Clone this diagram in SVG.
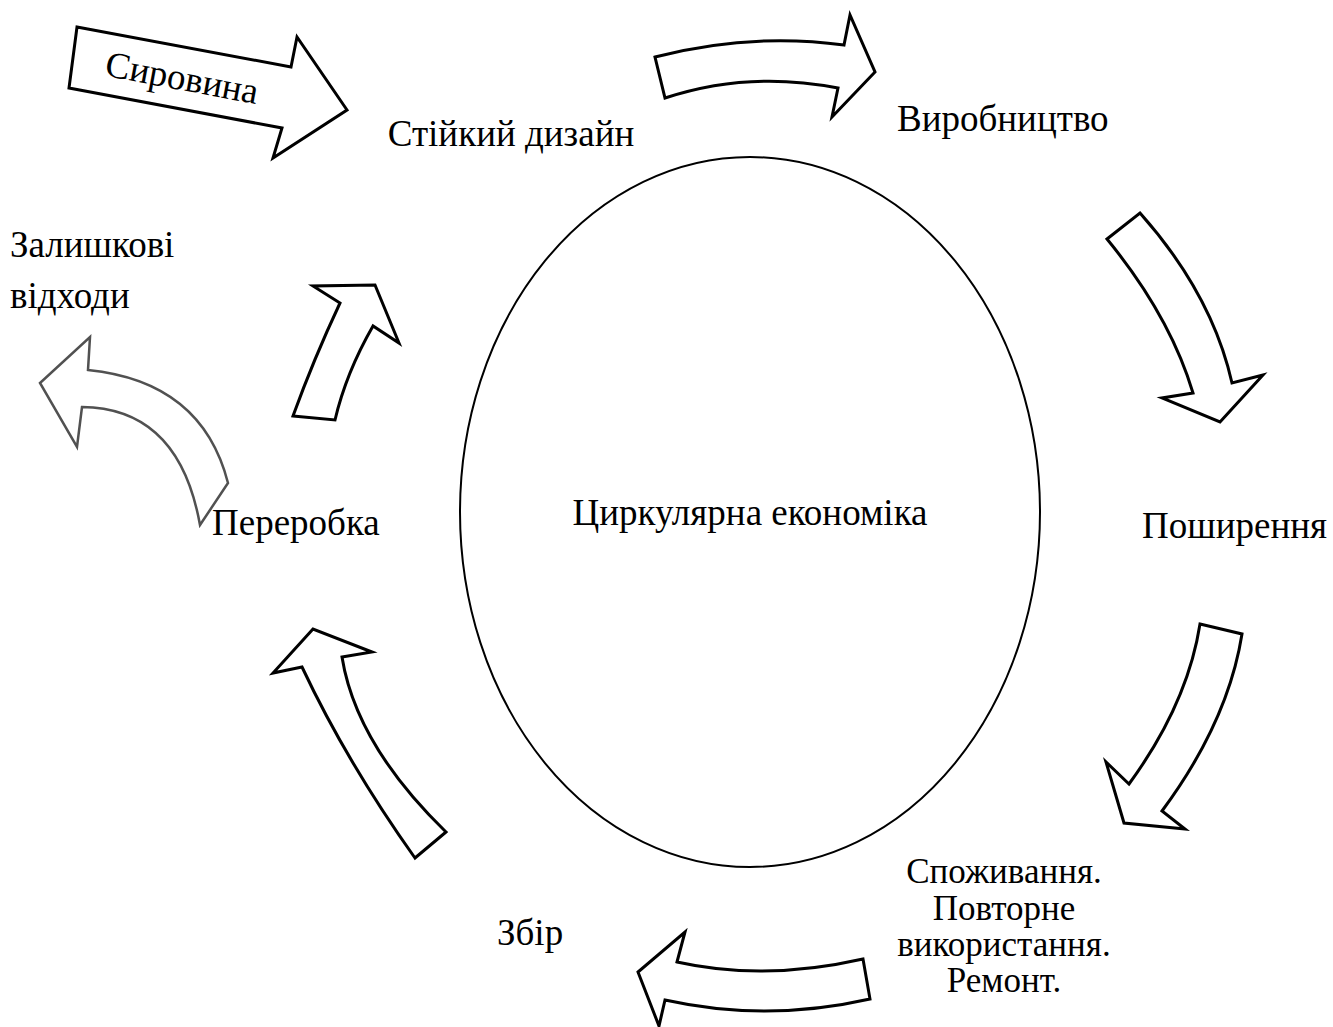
<svg xmlns="http://www.w3.org/2000/svg" width="1333" height="1027" viewBox="0 0 1333 1027">
<style>
.t{font-family:"Liberation Serif","Times New Roman",serif;font-size:37px;fill:#000}
.s{font-size:35px}
.m{text-anchor:middle}
.a{fill:#fff;stroke:#000;stroke-width:3;stroke-linejoin:miter}
.g{fill:#fff;stroke:#333;stroke-width:2.5;stroke-linejoin:miter;opacity:0.85}
</style>
<rect width="1333" height="1027" fill="#fff"/>
<g id="connectors">
<path id="arrow-raw" class="a" d="M77,27 L291,67 L297,37 L347,110 L273,158 L282,128 L69,88 Z"/>
<path id="arrow-top" class="a" d="M655,57 Q750.5,32.4 844,45 L850,15 L875,72 L832,117 L838,88 Q748.5,70.4 665,98 Z"/>
<path id="arrow-right1" class="a" d="M1107,239 L1140,213 Q1212,294 1232,383 L1263,375 L1220,422 L1162,398 L1193,393 Q1170,316 1107,239 Z"/>
<path id="arrow-right2" class="a" d="M1200,624 L1242,634 Q1228,722 1162,811 L1185,829 L1124,823 L1106,762 L1129,784 Q1187.5,704 1200,624 Z"/>
<path id="arrow-bottom" class="a" d="M863,959 L870,999 Q766.5,1022.5 665,1000 L659,1026 L638,972 L685,932 L677,962 Q764,981.5 863,959 Z"/>
<path id="arrow-left1" class="a" d="M446,832 L415,858 Q347,762.5 302,667 L273,673 L313,629 L372,652 L342,657 Q356,744.5 446,832 Z"/>
<path id="arrow-left2" class="a" d="M293,416 L335,420 Q346,373 373,326 L399,343 L375,285 L313,286 L340,303 Q313.5,359.5 293,416 Z"/>
<path id="arrow-waste" class="g" d="M200,525 L228,483 Q202,381.5 88,370 L90,337 L40,383 L77,447 L82,407 Q179,408 200,525 Z"/>
</g>
<g id="node-raw">
<text class="t m" transform="translate(182,78) rotate(10.6)" y="12">Сировина</text>
</g>
<g id="node-center">
<ellipse cx="750" cy="512" rx="290" ry="355" fill="none" stroke="#000" stroke-width="2"/>
<text class="t m" x="750" y="525">Циркулярна економіка</text>
</g>
<g id="node-design"><text class="t m" x="511" y="146">Стійкий дизайн</text></g>
<g id="node-production"><text class="t" x="897" y="131">Виробництво</text></g>
<g id="node-distribution"><text class="t" x="1142" y="538">Поширення</text></g>
<g id="node-consumption"><text class="t s m" x="1004" y="883">Споживання.</text><text class="t s m" x="1004" y="920">Повторне</text><text class="t s m" x="1004" y="956">використання.</text><text class="t s m" x="1004" y="992">Ремонт.</text></g>
<g id="node-collection"><text class="t" x="497" y="945">Збір</text></g>
<g id="node-recycling"><text class="t" x="212" y="535">Переробка</text></g>
<g id="node-waste"><text class="t" x="10" y="257">Залишкові</text><text class="t" x="10" y="308">відходи</text></g>
</svg>
